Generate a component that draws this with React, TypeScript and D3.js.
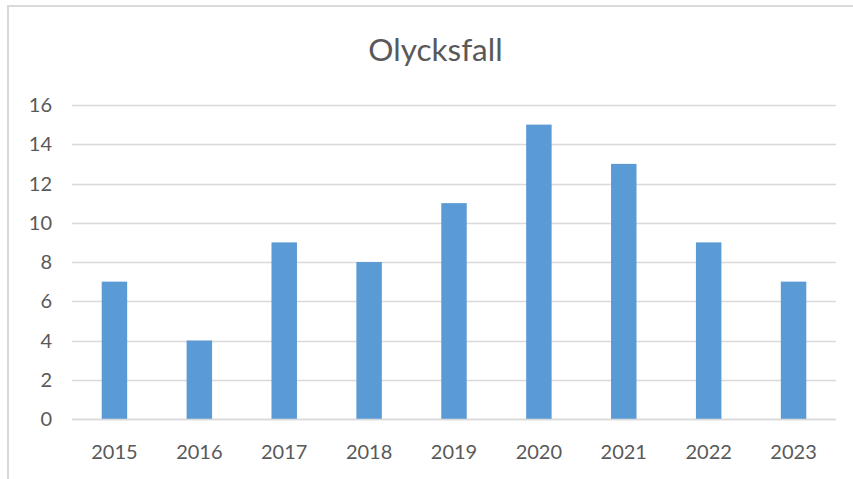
import React from "react";
import * as d3 from "d3";

const categories = ["2015", "2016", "2017", "2018", "2019", "2020", "2021", "2022", "2023"];
const values = [7, 4, 9, 8, 11, 15, 13, 9, 7];
const yTicks = [0, 2, 4, 6, 8, 10, 12, 14, 16];
const title = "Olycksfall";

const W = 853;
const H = 479;
const FONT = "Lato, 'Open Sans', sans-serif";

export default function App() {
  const x = d3.scaleBand<string>().domain(categories).range([72, 836]).paddingInner(0.7).paddingOuter(0.35);
  const y = d3.scaleLinear().domain([0, 16]).range([419, 105]);
  return (
    <svg width={W} height={H} style={{ position: "absolute", left: 0, top: 0, background: "#fff" }}>
      <rect x={8} y={6} width={W + 10} height={H + 10} fill="#fff" stroke="#d9d9d9" strokeWidth={2} />
      <text x={435.5} y={61} textAnchor="middle" fontFamily={FONT} fontSize={31.5} fill="#595959">{title}</text>
      {yTicks.map((t) => (
        <g key={t}>
          <line x1={72} x2={836} y1={Math.round(y(t)) + 0.5} y2={Math.round(y(t)) + 0.5} stroke="#d9d9d9" strokeWidth={1.5} />
          <text x={52} y={y(t) + 7} textAnchor="end" fontFamily={FONT} fontSize={20} fill="#595959">{t}</text>
        </g>
      ))}
      {categories.map((c, i) => (
        <rect key={c} x={x(c)} y={y(values[i])} width={x.bandwidth()} height={y(0) - y(values[i])} fill="#5b9bd5" />
      ))}
      <line x1={72} x2={836} y1={Math.round(y(0)) + 0.5} y2={Math.round(y(0)) + 0.5} stroke="#d9d9d9" strokeWidth={1.5} />
      {categories.map((c) => (
        <text key={c} x={(x(c) as number) + x.bandwidth() / 2} y={459} textAnchor="middle" fontFamily={FONT} fontSize={20} fill="#595959">{c}</text>
      ))}
    </svg>
  );
}
